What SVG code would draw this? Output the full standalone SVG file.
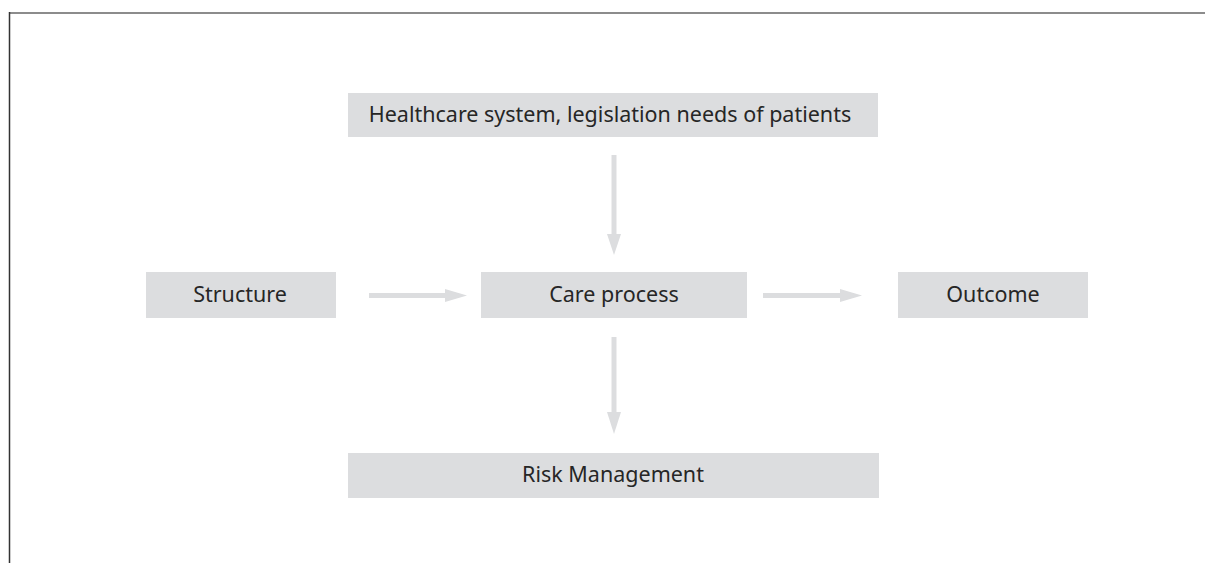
<svg xmlns="http://www.w3.org/2000/svg" width="1205" height="563" viewBox="0 0 1205 563">
  <style>
    .box { fill: #dcdddf; }
    .lbl { font-family: "Noto Sans", "Open Sans", sans-serif; font-size: 21.5px; fill: #262626; text-anchor: middle; }
    .conn { stroke: #dcdddf; stroke-width: 5; fill: none; }
    .head { fill: #dcdddf; }
  </style>
  <rect width="1205" height="563" fill="#ffffff"/>
  <!-- frame -->
  <line x1="9" y1="13" x2="1205" y2="13" stroke="#8c8c8c" stroke-width="2"/>
  <line x1="9.5" y1="12" x2="9.5" y2="563" stroke="#333333" stroke-width="1.5"/>

  <g id="connectors">
    <!-- Healthcare system -> Care process -->
    <line class="conn" x1="614" y1="155" x2="614" y2="236"/>
    <polygon class="head" points="607,234 621,234 614,255"/>
    <!-- Structure -> Care process -->
    <line class="conn" x1="369" y1="295.5" x2="448" y2="295.5"/>
    <polygon class="head" points="445,289 445,302 467,295.5"/>
    <!-- Care process -> Outcome -->
    <line class="conn" x1="763" y1="295.5" x2="843" y2="295.5"/>
    <polygon class="head" points="840,289 840,302 862,295.5"/>
    <!-- Care process -> Risk Management -->
    <line class="conn" x1="614" y1="337" x2="614" y2="414"/>
    <polygon class="head" points="607,412 621,412 614,434"/>
  </g>

  <g id="healthcare">
    <rect class="box" x="348" y="93" width="530" height="44"/>
    <text class="lbl" x="610" y="122">Healthcare system, legislation needs of patients</text>
  </g>
  <g id="structure">
    <rect class="box" x="146" y="272" width="190" height="46"/>
    <text class="lbl" x="240" y="302">Structure</text>
  </g>
  <g id="care-process">
    <rect class="box" x="481" y="272" width="266" height="46"/>
    <text class="lbl" x="614" y="302">Care process</text>
  </g>
  <g id="outcome">
    <rect class="box" x="898" y="272" width="190" height="46"/>
    <text class="lbl" x="993" y="302">Outcome</text>
  </g>
  <g id="risk-management">
    <rect class="box" x="348" y="453" width="531" height="45"/>
    <text class="lbl" x="613" y="482">Risk Management</text>
  </g>
</svg>
